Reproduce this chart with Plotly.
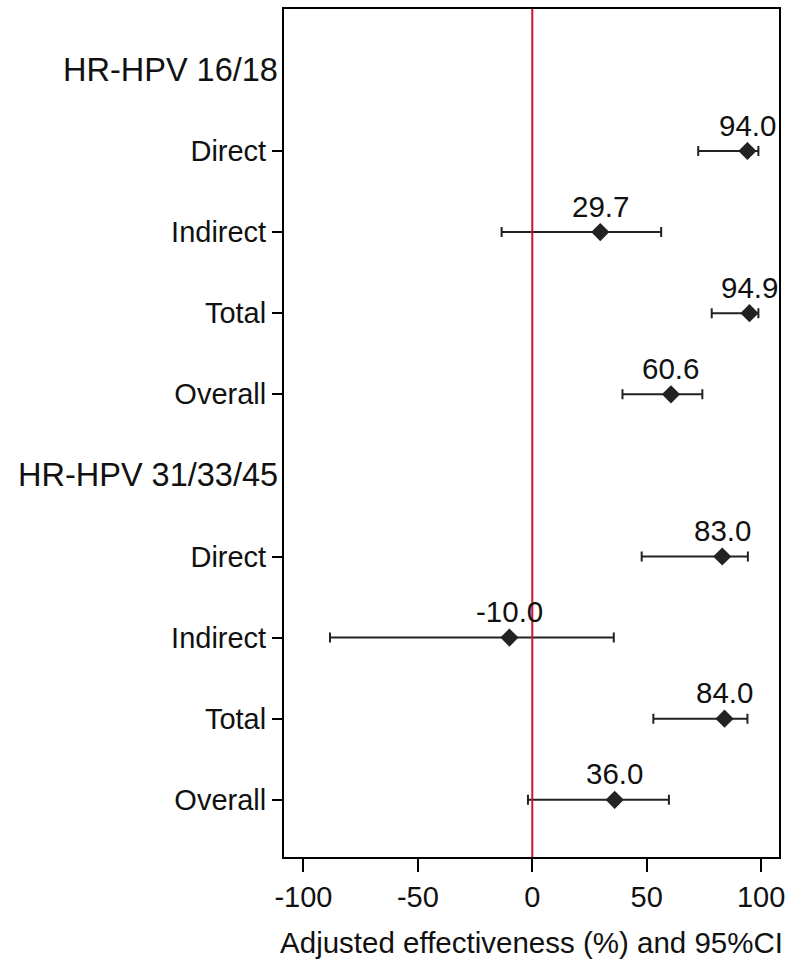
import plotly.graph_objects as go

groups = ["HR-HPV 16/18", "HR-HPV 31/33/45"]
labels = ["Direct", "Indirect", "Total", "Overall"]
est_1618 = [94.0, 29.7, 94.9, 60.6]
lo_1618 = [72.5, -13.4, 78.4, 39.4]
hi_1618 = [98.8, 56.3, 98.8, 74.3]
est_3145 = [83.0, -10.0, 84.0, 36.0]
lo_3145 = [47.8, -88.4, 52.9, -1.9]
hi_3145 = [94.2, 35.6, 94.0, 59.7]
x_ticks = [-100, -50, 0, 50, 100]

# row layout: header rows at 0 and 5, items after each header
ests = est_1618 + est_3145
los = lo_1618 + lo_3145
his = hi_1618 + hi_3145
rows = [1, 2, 3, 4, 6, 7, 8, 9]
row_labels = labels + labels
header_rows = [0, 5]

FONT = "Liberation Sans, Arial, sans-serif"
INK = "#111111"

fig = go.Figure()
fig.add_trace(go.Scatter(
    x=ests, y=rows, mode="markers",
    marker=dict(symbol="diamond", size=14, color="#222222"),
    error_x=dict(type="data", symmetric=False,
                 array=[h - e for h, e in zip(his, ests)],
                 arrayminus=[e - l for e, l in zip(ests, los)],
                 color="#222222", thickness=2, width=5),
    showlegend=False, hoverinfo="skip",
))

for e, r in zip(ests, rows):
    fig.add_annotation(x=e, y=r, text=f"{e:.1f}", showarrow=False,
                       yshift=26, font=dict(size=29.5, color=INK, family=FONT))

for g, r in zip(groups, header_rows):
    fig.add_annotation(x=0, xref="paper", y=r, text=g, showarrow=False,
                       xanchor="right", yanchor="middle", xshift=-4,
                       font=dict(size=32.5, color=INK, family=FONT))

fig.add_shape(type="line", x0=0, x1=0, xref="x", y0=0, y1=1, yref="paper",
              line=dict(color="#d0103a", width=2))

fig.update_layout(
    width=788, height=959,
    margin=dict(l=284, r=9, t=9, b=102, autoexpand=False),
    paper_bgcolor="white", plot_bgcolor="white",
    font=dict(family=FONT, color=INK, size=29),
    xaxis=dict(range=[-108.5, 107.8], tickvals=x_ticks,
               ticktext=[str(v) for v in x_ticks],
               automargin=False,
               showgrid=False, zeroline=False,
               showline=True, mirror=True, linecolor="black", linewidth=2,
               ticks="outside", ticklen=13, tickwidth=2, tickcolor="black",
               ticklabeloverflow="allow",
               tickfont=dict(size=29, family=FONT, color=INK),
               title=dict(text="Adjusted effectiveness (%) and 95%CI",
                          font=dict(size=29.5, family=FONT, color=INK),
                          standoff=36)),
    yaxis=dict(range=[9.705, -0.751], tickvals=rows, ticktext=row_labels,
               automargin=False,
               showgrid=False, zeroline=False,
               showline=True, mirror=True, linecolor="black", linewidth=2,
               ticks="outside", ticklen=10, tickwidth=2, tickcolor="black",
               tickfont=dict(size=29, family=FONT, color=INK)),
)

fig.write_html(
    "out.html",
    config={"displayModeBar": False},
    post_script="document.body.style.margin='0';document.body.style.overflow='hidden';",
)
